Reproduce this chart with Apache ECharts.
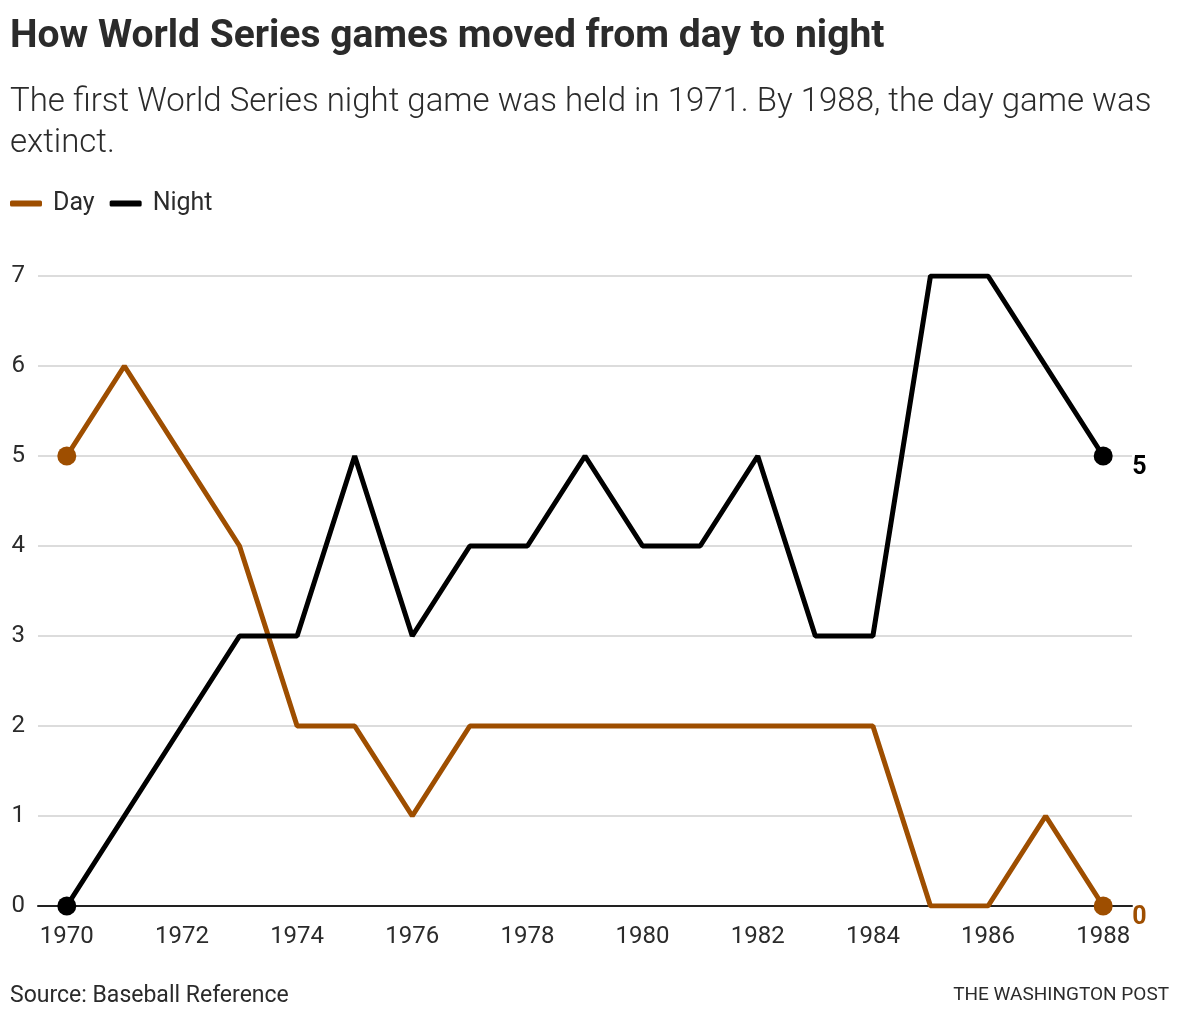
<!DOCTYPE html>
<html><head><meta charset="utf-8">
<script src="https://cdn.jsdelivr.net/npm/echarts@6/dist/echarts.min.js"></script>
<style>html,body{margin:0;padding:0;background:#fff}#c{width:1180px;height:1020px}</style>
</head><body><div id="c"></div>
<script>
var years = ['1970','1971','1972','1973','1974','1975','1976','1977','1978','1979','1980','1981','1982','1983','1984','1985','1986','1987','1988'];
var dayGames = [5,6,5,4,2,2,1,2,2,2,2,2,2,2,2,0,0,1,0];
var nightGames = [0,1,2,3,3,5,3,4,4,5,4,4,5,3,3,7,7,6,5];
var yTicks = [0,1,2,3,4,5,6,7];
var titleText = 'How World Series games moved from day to night';
var subText = 'The first World Series night game was held in 1971. By 1988, the day game was\nextinct.';
var sourceText = 'Source: Baseball Reference';
var creditText = 'THE WASHINGTON POST';

var DAY = '#9e4e00', NIGHT = '#000000', TXT = '#2b2b2b';
var FONT = 'Roboto';
var last = years.length - 1;
function sym(v, p){ return (p.dataIndex === 0 || p.dataIndex === last) ? 19 : 0; }

var chart = echarts.init(document.getElementById('c'));
chart.setOption({
  animation: false,
  textStyle: {fontFamily: FONT},
  title: [
    {text: titleText, left: 10, top: 18, padding: 0, textStyle: {fontFamily: FONT, fontWeight: 'bold', fontSize: 39, color: TXT}},
    {text: subText, left: 10, top: 82, padding: 0, textStyle: {fontFamily: FONT, fontWeight: 300, fontSize: 33, lineHeight: 41, color: TXT}},
    {text: sourceText, left: 10, top: 985, padding: 0, textStyle: {fontFamily: FONT, fontWeight: 'normal', fontSize: 23, color: TXT}},
    {text: creditText, right: 11, top: 986, padding: 0, textStyle: {fontFamily: FONT, fontWeight: 'normal', fontSize: 19, color: TXT}}
  ],
  legend: {
    left: 10, top: 191, padding: 0, itemGap: 15, itemWidth: 32, itemHeight: 6, selectedMode: false,
    textStyle: {fontFamily: FONT, fontSize: 25, color: TXT, padding: [0,0,0,6]},
    data: [{name: 'Day', icon: 'roundRect', itemStyle: {color: DAY}}, {name: 'Night', icon: 'roundRect', itemStyle: {color: NIGHT}}]
  },
  grid: {left: 38, right: 48, top: 276, bottom: 114, containLabel: false},
  xAxis: {
    type: 'category', data: years, boundaryGap: true,
    axisLine: {lineStyle: {color: '#222', width: 2}},
    axisTick: {show: false},
    axisLabel: {interval: 1, fontFamily: FONT, fontSize: 24, color: TXT, margin: 19}
  },
  yAxis: {
    type: 'value', min: 0, max: 7, interval: 1,
    axisLine: {show: false}, axisTick: {show: false},
    axisLabel: {fontFamily: FONT, fontSize: 24, color: TXT, margin: 13},
    splitLine: {lineStyle: {color: '#dcdcdc', width: 2}}
  },
  series: [
    {name: 'Day', type: 'line', data: dayGames, color: DAY, symbol: 'circle', symbolSize: sym, showSymbol: true,
     lineStyle: {width: 5, color: DAY}, itemStyle: {color: DAY}, emphasis: {disabled: true}, z: 3,
     endLabel: {show: true, formatter: '{c}', fontFamily: FONT, fontWeight: 'bold', fontSize: 25, color: DAY, distance: 29, offset: [0, 12]}},
    {name: 'Night', type: 'line', data: nightGames, color: NIGHT, symbol: 'circle', symbolSize: sym, showSymbol: true,
     lineStyle: {width: 5, color: NIGHT}, itemStyle: {color: NIGHT}, emphasis: {disabled: true}, z: 4,
     endLabel: {show: true, formatter: '{c}', fontFamily: FONT, fontWeight: 'bold', fontSize: 25, color: NIGHT, distance: 29, offset: [0, 12]}}
  ]
});
</script></body></html>
